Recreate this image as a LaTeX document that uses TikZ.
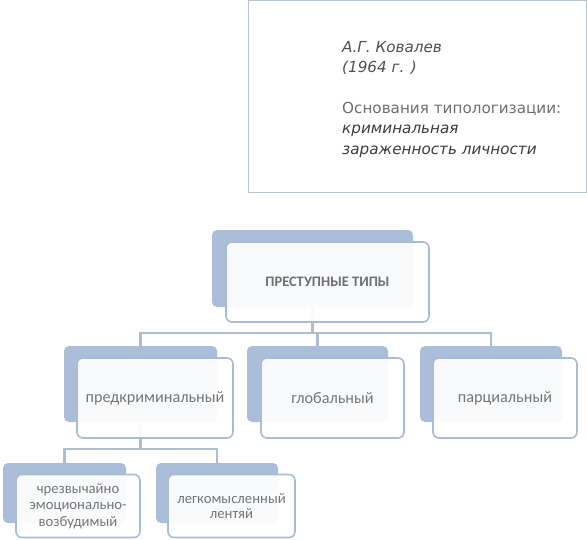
\documentclass[tikz,border=0pt]{standalone}
\usepackage{fontspec}
\setmainfont{Carlito}
\newfontfamily\boxfont{DejaVu Sans}
\pgfdeclarelayer{bg}
\pgfsetlayers{bg,main}
\definecolor{backblue}{RGB}{170,190,218}
\definecolor{edgeblue}{RGB}{168,188,215}
\definecolor{linkblue}{RGB}{172,190,214}
\definecolor{txtgray}{RGB}{118,118,118}
\definecolor{boxedge}{RGB}{184,196,216}
\tikzset{
  backbox/.style={draw=none, fill=backblue, rounded corners=5pt, minimum width=#1, inner sep=0pt},
  frontbox/.style={draw=edgeblue, line width=1.6pt, fill=white, fill opacity=0.93, text opacity=1,
     rounded corners=6pt, minimum width=#1, inner sep=0pt, text=txtgray, align=center},
  link/.style={draw=linkblue, line width=2.2pt},
}
\begin{document}
\begin{tikzpicture}[x=1pt,y=-1pt]
\useasboundingbox (0,0) rectangle (587,539);
% info box
\node[draw=boxedge, line width=0.8pt, minimum width=337.5pt, minimum height=191.5pt, inner sep=0pt] (info) at (417.25,96.25) {};
\node[anchor=north west, inner sep=0pt, align=left, font=\boxfont\fontsize{15.2}{20.4}\selectfont] (infotext) at (342,41)
 {\textcolor[RGB]{80,80,80}{\itshape А.Г. Ковалев}\\
  \textcolor[RGB]{80,80,80}{\itshape (1964 г. )}\\[20.4pt]
  \textcolor[RGB]{110,110,110}{Основания типологизации:}\\
  \textcolor[RGB]{60,60,60}{\itshape криминальная}\\
  \textcolor[RGB]{60,60,60}{\itshape зараженность личности}};
% back boxes
\node[backbox=201pt, minimum height=77pt] (topB) at (312.5,268.5) {};
\node[backbox=153pt, minimum height=76pt] (preB) at (140.5,384) {};
\node[backbox=141pt, minimum height=76pt] (globB) at (317.5,384) {};
\node[backbox=142pt, minimum height=76pt] (partB) at (491,384) {};
\node[backbox=123pt, minimum height=60pt] (emoB) at (64.5,493) {};
\node[backbox=122pt, minimum height=60pt] (lazyB) at (217,493) {};
% connectors
\begin{pgfonlayer}{bg}
\draw[link] (topB.south) -- ++(0,26) -| (preB.north);
\draw[link] (topB.south) -- ++(0,26) -| (globB.north);
\draw[link] (topB.south) -- ++(0,26) -| (partB.north);
\draw[link] (preB.south) -- ++(0,27) -| (emoB.north);
\draw[link] (preB.south) -- ++(0,27) -| (lazyB.north);
\end{pgfonlayer}
% front boxes
\node[frontbox=203pt, minimum height=80pt, font=\fontsize{14.5}{16}\selectfont\bfseries, text={rgb,255:red,112;green,112;blue,112}] (top) at (327.5,282) {ПРЕСТУПНЫЕ ТИПЫ};
\node[frontbox=156pt, minimum height=80pt, font=\fontsize{16.2}{18}\selectfont] (pre) at (155,398) {предкриминальный};
\node[frontbox=143pt, minimum height=80pt, font=\fontsize{16.2}{18}\selectfont] (glob) at (332.5,398) {глобальный};
\node[frontbox=144pt, minimum height=80pt, font=\fontsize{16.2}{18}\selectfont] (part) at (505,398) {парциальный};
\node[frontbox=124pt, minimum height=63pt, font=\fontsize{14.7}{16.5}\selectfont] (emo) at (78,506) {чрезвычайно\\эмоционально-\\возбудимый};
\node[frontbox=127pt, minimum height=63pt, font=\fontsize{14.7}{15.5}\selectfont] (lazy) at (231.5,506) {легкомысленный\\лентяй};
\end{tikzpicture}
\end{document}
